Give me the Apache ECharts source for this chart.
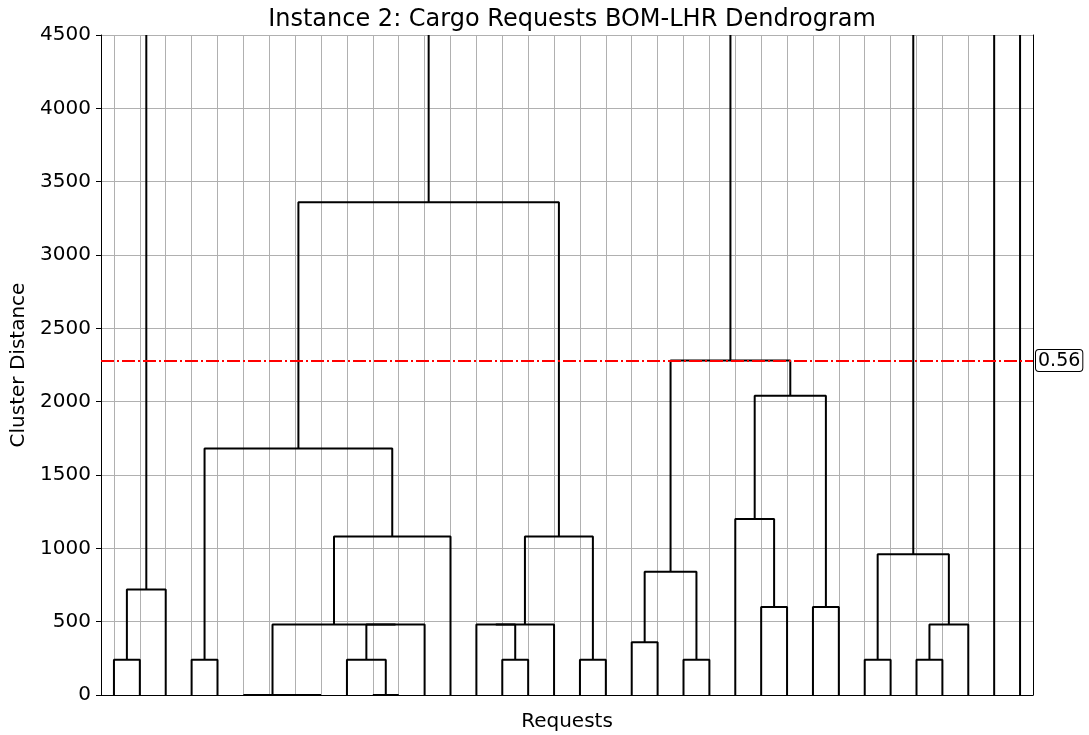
<!DOCTYPE html>
<html>
<head>
<meta charset="utf-8">
<script src="https://cdn.jsdelivr.net/npm/echarts@6/dist/echarts.min.js"></script>
<style>
  html, body { margin: 0; padding: 0; background: #fff; }
  #chart { width: 1089px; height: 735px; }
</style>
</head>
<body>
<div id="chart"></div>
<script>
// dendrogram data: 36 leaves, merges like a scipy linkage (ids >= 36 are clusters)
const leafCount = 36
const mergeLeft   = [0, 36, 3, 6, 39, 5, 10, 9, 43, 41, 45, 38, 15, 14, 49, 18, 50, 47, 20, 22, 54, 25, 24, 27, 58, 56, 29, 31, 63, 62]
const mergeRight  = [1, 2, 4, 7, 8, 40, 11, 42, 12, 44, 13, 46, 16, 48, 17, 19, 51, 52, 21, 23, 55, 26, 57, 28, 59, 60, 30, 32, 33, 64]
const mergeHeight = [240, 720, 240, 0, 0, 0, 0, 240, 480, 480, 1080, 1680, 240, 480, 480, 240, 1080, 3360, 360, 240, 840, 600, 1200, 600, 2040, 2280, 240, 240, 480, 960]

const yMin = 0
const yMax = 4500
const yStep = 500
const cutHeight = 2280
const cutLabel = '0.56'

const titleText = 'Instance 2: Cargo Requests BOM-LHR Dendrogram'
const xName = 'Requests'
const yName = 'Cluster Distance'

// positions of leaves and clusters (matplotlib style: leaf i at 10*i+5)
const posX = []
const posY = []
for (let i = 0; i < leafCount; i++) {
  posX[i] = 10 * i + 5
  posY[i] = 0
}
const links = []
const used = new Set()
mergeLeft.forEach((l, k) => {
  const r = mergeRight[k]
  const h = mergeHeight[k]
  const id = leafCount + k
  posX[id] = (posX[l] + posX[r]) / 2
  posY[id] = h
  used.add(l)
  used.add(r)
  links.push([[posX[l], posY[l]], [posX[l], h], [posX[r], h], [posX[r], posY[r]]])
})
// clusters still open at the top run up past the axis
for (let id = 0; id < posX.length; id++) {
  if (!used.has(id)) {
    links.push([[posX[id], posY[id]], [posX[id], yMax]])
  }
}

const font = 'DejaVu Sans'
const gridColor = '#b0b0b0'

const series = links.map((pts) => ({
  type: 'line',
  data: pts,
  symbol: 'none',
  silent: true,
  z: 3,
  lineStyle: { color: '#000', width: 2 }
}))

// vertical grid lines at leaf positions (markLine z defaults to 5, keep it under the links)
series.push({
  type: 'line',
  data: [],
  z: 1,
  silent: true,
  markLine: {
    z: 1,
    silent: true,
    symbol: 'none',
    label: { show: false },
    lineStyle: { color: gridColor, width: 1, type: 'solid' },
    data: posX.slice(0, leafCount).map((x) => ({ xAxis: x }))
  }
})

// cut-off line
series.push({
  type: 'line',
  data: [],
  z: 6,
  silent: true,
  markLine: {
    z: 6,
    silent: true,
    symbol: 'none',
    lineStyle: { color: '#ff0000', width: 2, type: [13, 3, 2, 3] },
    label: {
      show: true,
      position: 'end',
      formatter: cutLabel,
      fontFamily: font,
      fontSize: 19,
      color: '#000',
      backgroundColor: '#fff',
      borderColor: '#000',
      borderWidth: 1,
      borderRadius: 3,
      padding: [2, 2, 0, 2],
      distance: 3
    },
    data: [{ yAxis: cutHeight }]
  }
})

const chart = echarts.init(document.getElementById('chart'))
chart.setOption({
  animation: false,
  backgroundColor: '#fff',
  title: {
    text: titleText,
    left: 567,
    top: 3,
    textAlign: 'center',
    textStyle: { fontFamily: font, fontSize: 24, fontWeight: 'normal', color: '#000' }
  },
  grid: { left: 101, right: 56, top: 35, bottom: 40, containLabel: false, outerBoundsMode: 'none' },
  xAxis: {
    type: 'value',
    min: 0,
    max: leafCount * 10,
    name: xName,
    nameLocation: 'middle',
    nameGap: 17,
    nameTextStyle: { fontFamily: font, fontSize: 20, color: '#000' },
    axisLine: { show: true, onZero: false, lineStyle: { color: '#000', width: 1 } },
    axisTick: { show: false },
    axisLabel: { show: false },
    splitLine: { show: false }
  },
  yAxis: [
    {
      type: 'value',
      min: yMin,
      max: yMax,
      interval: yStep,
      name: yName,
      nameLocation: 'middle',
      nameGap: 71,
      nameRotate: 90,
      nameTextStyle: { fontFamily: font, fontSize: 20, color: '#000' },
      axisLine: { show: true, lineStyle: { color: '#000', width: 1 } },
      axisTick: { show: true, length: 5, lineStyle: { color: '#000', width: 1 } },
      axisLabel: { fontFamily: font, fontSize: 20, color: '#000', margin: 10, formatter: (v) => String(v) },
      splitLine: { show: true, lineStyle: { color: gridColor, width: 1 } }
    },
    {
      type: 'value',
      position: 'right',
      min: yMin,
      max: yMax,
      axisLine: { show: true, lineStyle: { color: '#000', width: 1 } },
      axisTick: { show: false },
      axisLabel: { show: false },
      splitLine: { show: false }
    }
  ],
  series: series
})
</script>
</body>
</html>
